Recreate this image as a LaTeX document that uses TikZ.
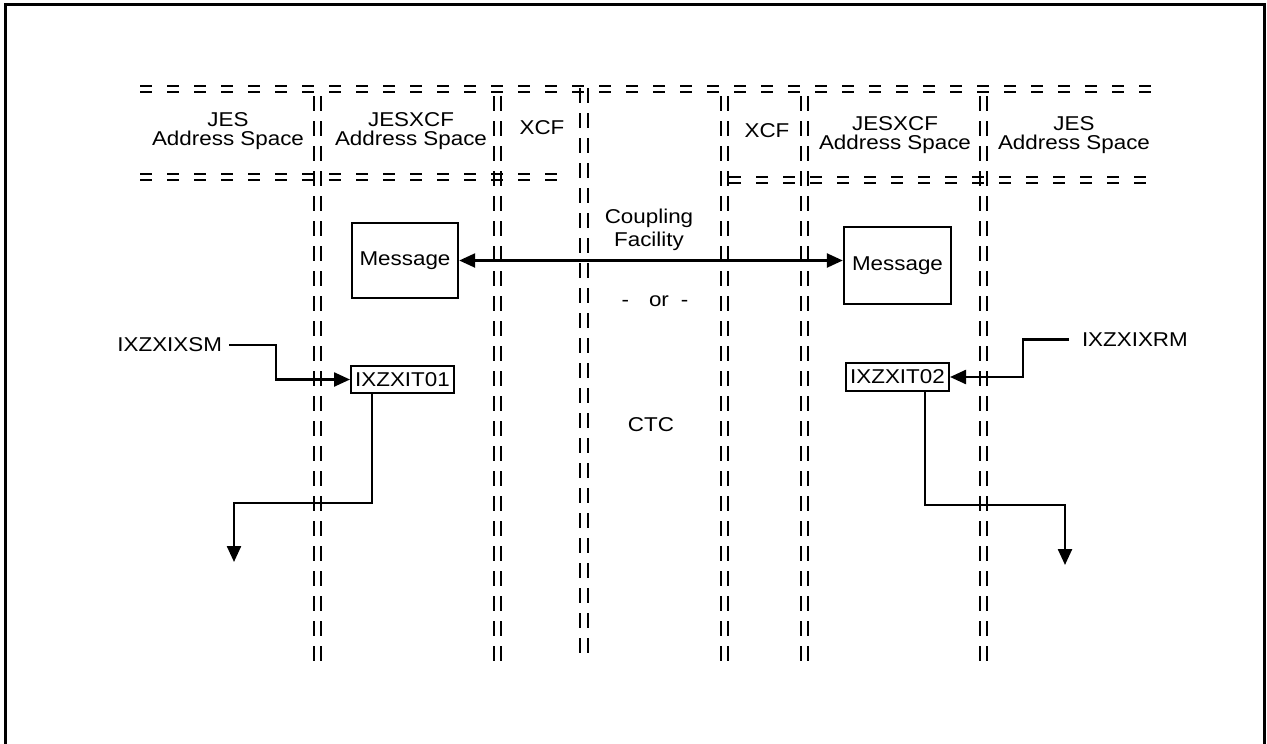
\documentclass[tikz,border=0pt]{standalone}
\usepackage{fontspec}
\setmainfont[FakeStretch=1.12]{Liberation Sans}
\usetikzlibrary{arrows.meta}
\begin{document}
\begin{tikzpicture}[x=1pt,y=-1pt,
  lbl/.style={font=\fontsize{20}{19}\selectfont, align=center, inner sep=0pt},
  box/.style={draw, line width=2.4pt, inner sep=0pt, font=\fontsize{20}{19}\selectfont},
  conn/.style={line width=2.4pt, -{Triangle[length=16pt,width=14pt]}},
  hd/.style={line width=2.5pt, dash pattern=on 12pt off 15pt},
  vd/.style={line width=2.5pt, dash pattern=on 15pt off 10pt}]
\useasboundingbox (0,0) rectangle (1267,744);
% outer frame
\draw[line width=3pt] (5,4) rectangle (1264,780);
% horizontal double dashed lines
\foreach \y in {86,92} \draw[hd] (140,\y) -- (1153,\y);
\foreach \y in {174,180} \draw[hd] (140,\y) -- (566,\y);
\foreach \y in {177,183} \draw[hd] (729,\y) -- (1153,\y);
% vertical double dashed lines
\foreach \x in {314,321,494,501,721,728,801,808,980,987} \draw[vd] (\x,96) -- (\x,663);
\foreach \x in {580,588} \draw[vd] (\x,88) -- (\x,657);
% header labels
\node[lbl] (jesL) at (228,131) {JES\\Address Space};
\node[lbl] (jxL) at (411,131) {JESXCF\\Address Space};
\node[lbl] (xcfL) at (542,128) {XCF};
\node[lbl] (xcfR) at (767,131) {XCF};
\node[lbl] (jxR) at (895,135) {JESXCF\\Address Space};
\node[lbl] (jesR) at (1074,135) {JES\\Address Space};
% centre labels
\node[lbl, font=\fontsize{20}{23}\selectfont] (cf) at (649,230) {Coupling\\Facility};
\node[lbl] (or) at (655,301) {-\hspace{20pt}or\hspace{12pt}-};
\node[lbl] (ctc) at (651,425) {CTC};
% boxes
\node[box, minimum width=106pt, minimum height=75pt] (msgL) at (405,260.5) {Message};
\node[box, minimum width=107pt, minimum height=77pt] (msgR) at (897.5,265.5) {Message};
\node[box, line width=2pt, minimum width=103pt, minimum height=27pt] (it1) at (402.5,379.5) {IXZXIT01};
\node[box, line width=2pt, minimum width=103pt, minimum height=28pt] (it2) at (897.5,377) {IXZXIT02};
% side labels
\node[lbl, anchor=east, outer sep=7pt] (sm) at (229,345) {IXZXIXSM};
\node[lbl, anchor=west, outer sep=13pt] (rm) at (1069,339.5) {IXZXIXRM};
% helper coordinates
\coordinate (bendL) at (276,0);
\coordinate (bendR) at (1023,0);
\coordinate (turnL) at (234,503);
\coordinate (outL) at (234,562);
\coordinate (turnR) at (1065,505);
\coordinate (outR) at (1065,565);
% connectors
\draw[line width=2.4pt, {Triangle[length=16pt,width=14pt]}-{Triangle[length=16pt,width=14pt]}]
  (msgL.east) -- (msgL.east -| msgR.west);
\draw[conn] (sm.east) -| (bendL |- it1.west) -- (it1.west);
\draw[conn] (rm.west) -| (bendR |- it2.east) -- (it2.east);
\draw[conn] ([xshift=22pt]it1.south west) |- (turnL) -- (outL);
\draw[conn] ([xshift=-25pt]it2.south east) |- (turnR) -- (outR);
\end{tikzpicture}
\end{document}
